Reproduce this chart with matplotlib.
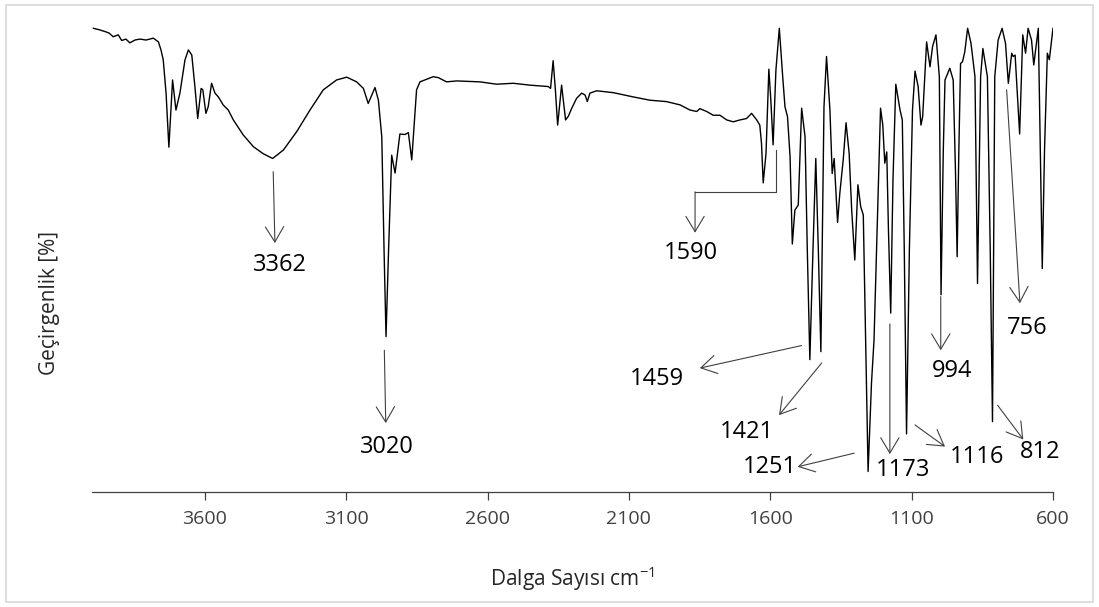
import matplotlib
matplotlib.use("Agg")
import matplotlib.pyplot as plt
from matplotlib.patches import Rectangle

plt.rcParams['font.family'] = ['Open Sans', 'DejaVu Sans']
plt.rcParams['mathtext.fontset'] = 'custom'
plt.rcParams['mathtext.rm'] = 'Open Sans'
plt.rcParams['mathtext.it'] = 'Open Sans'

# FTIR spectrum: wavenumber (cm-1) and transmittance (%)
wavenumber = [3994, 3974, 3953, 3939, 3924, 3906, 3894, 3879, 3865, 3847,
              3829, 3808, 3782, 3764, 3755, 3747, 3737, 3727, 3714, 3702,
              3688, 3670, 3658, 3646, 3635, 3625, 3613, 3607, 3596, 3588,
              3576, 3564, 3552, 3535, 3517, 3499, 3464, 3428, 3393, 3360,
              3322, 3275, 3228, 3181, 3134, 3098, 3063, 3039, 3022, 2998,
              2986, 2974, 2966, 2959, 2950, 2939, 2927, 2910, 2892, 2880,
              2868, 2851, 2839, 2792, 2774, 2745, 2709, 2627, 2568, 2509,
              2450, 2385, 2377, 2368, 2360, 2352, 2338, 2324, 2314, 2302,
              2285, 2267, 2255, 2247, 2238, 2214, 2155, 2085, 2026, 1967,
              1919, 1884, 1860, 1849, 1825, 1802, 1778, 1754, 1731, 1707,
              1684, 1666, 1648, 1637, 1631, 1625, 1615, 1605, 1598, 1590,
              1580, 1568, 1556, 1548, 1539, 1530, 1522, 1513, 1501, 1489,
              1477, 1469, 1460, 1449, 1439, 1430, 1421, 1410, 1401, 1389,
              1381, 1374, 1362, 1354, 1342, 1332, 1321, 1312, 1301, 1290,
              1280, 1271, 1262, 1254, 1242, 1233, 1224, 1210, 1202, 1195,
              1188, 1182, 1174, 1166, 1156, 1141, 1133, 1126, 1118, 1108,
              1097, 1088, 1077, 1067, 1061, 1056, 1047, 1035, 1026, 1014,
              1002, 996, 988, 982, 965, 953, 945, 939, 933, 927,
              920, 912, 902, 890, 876, 867, 856, 848, 832, 822,
              814, 806, 794, 780, 768, 758, 746, 741, 734, 725,
              718, 707, 697, 688, 676, 668, 652, 645, 638, 630,
              620, 613, 600]
transmittance = [98.6, 98.3, 97.9, 97.6, 96.8, 97.2, 96.0, 96.3, 95.5, 96.1,
                 96.3, 96.1, 96.5, 95.7, 94.0, 91.9, 84.8, 73.3, 87.6, 81.2,
                 84.8, 91.9, 94.0, 92.9, 86.2, 79.4, 85.8, 85.5, 80.5, 81.9,
                 86.9, 84.8, 84.0, 82.3, 81.2, 79.1, 75.9, 73.4, 71.9, 70.9,
                 72.7, 76.6, 81.2, 85.5, 87.6, 88.2, 87.2, 85.8, 82.6, 86.0,
                 83.3, 75.5, 51.4, 33.0, 51.4, 71.6, 67.8, 76.1, 76.0, 76.4,
                 70.6, 85.5, 87.2, 88.3, 88.1, 87.2, 87.4, 87.2, 86.7, 86.9,
                 86.5, 86.2, 85.8, 91.7, 85.5, 78.0, 86.5, 79.1, 79.9, 81.6,
                 83.7, 84.8, 84.4, 83.0, 84.8, 85.3, 84.9, 84.0, 83.3, 83.0,
                 82.3, 81.2, 80.9, 81.5, 80.9, 80.1, 80.1, 79.1, 78.7, 79.1,
                 79.4, 80.5, 79.1, 78.0, 74.1, 65.7, 72.0, 89.9, 83.3, 73.8,
                 89.7, 98.6, 88.3, 81.9, 79.8, 71.3, 52.7, 59.9, 61.0, 81.6,
                 75.5, 51.4, 28.1, 51.4, 70.9, 51.4, 29.8, 81.9, 92.6, 81.2,
                 67.7, 70.9, 57.3, 63.5, 70.6, 78.5, 72.0, 59.9, 49.3, 65.3,
                 60.6, 58.9, 30.1, 4.3, 23.1, 32.3, 51.4, 81.6, 78.0, 69.9,
                 72.3, 55.7, 38.0, 66.3, 86.7, 81.2, 79.1, 51.4, 12.3, 51.4,
                 81.2, 89.5, 86.2, 78.0, 79.8, 85.5, 95.7, 90.4, 94.7, 97.2,
                 88.3, 41.9, 72.7, 87.6, 90.1, 87.6, 68.4, 50.0, 72.7, 91.1,
                 91.5, 93.6, 98.6, 95.4, 88.3, 44.3, 88.3, 94.3, 88.3, 51.4,
                 14.9, 88.3, 96.1, 98.6, 95.4, 86.9, 93.3, 92.6, 92.9, 83.3,
                 76.1, 97.2, 93.3, 98.6, 96.1, 90.8, 98.6, 72.7, 47.5, 72.7,
                 93.3, 91.9, 98.6]

x_ticks = [3600, 3100, 2600, 2100, 1600, 1100, 600]

# peak labels
peak_labels = ['3362', '3020', '1590', '1459', '1421', '1251',
               '1173', '1116', '994', '812', '756']

fig = plt.figure(figsize=(10.99, 6.07), dpi=100)
fig.patches.append(Rectangle((6 / 1099, 1 - 602 / 607), 1087 / 1099, 597 / 607,
                             transform=fig.transFigure, fill=False,
                             edgecolor='#d9d9d9', linewidth=1.2))

ax = fig.add_axes([91.7 / 1099, 1 - 491.7 / 607, (1053 - 91.7) / 1099, 470 / 607])
ax.plot(wavenumber, transmittance, color='black', linewidth=1.0)
ax.set_xlim(4000, 600)
ax.set_ylim(0, 100)
ax.set_xticks(x_ticks)
ax.set_xticklabels([str(t) for t in x_ticks], fontsize=14, color='#404040')
ax.set_yticks([])
for side in ('left', 'right', 'top'):
    ax.spines[side].set_visible(False)
ax.spines['bottom'].set_color('#404040')
ax.spines['bottom'].set_linewidth(0.9)
ax.tick_params(axis='x', direction='out', length=5.5, width=0.9,
               color='#404040', pad=8)

ax.set_xlabel('Dalga Sayısı cm$^{-1}$', fontsize=15, color='#262626', labelpad=26)
fig.text(50 / 1099, 1 - 303 / 607, 'Geçirgenlik [%]', rotation=90,
         fontsize=15, color='#262626', ha='center', va='center')

arrow_kw = dict(arrowstyle='->, head_length=0.55, head_width=0.33',
                color='#404040', linewidth=0.8, mutation_scale=20,
                shrinkA=0, shrinkB=0)
txt_kw = dict(fontsize=17, color='black', ha='center', va='center')

# (label, arrow start, arrow tip, text position) in data coordinates
straight = [
    ('3362', (3358, 68.1), (3352, 52.9), (3334, 48.2)),
    ('3020', (2965, 30.1), (2960, 14.6), (2957, 9.6)),
    ('1459', (1489, 31.1), (1849, 26.3), (2001, 24.0)),
    ('1421', (1418, 27.4), (1569, 16.3), (1684, 12.8)),
    ('1251', (1303, 8.2), (1503, 5.3), (1601, 5.3)),
    ('1173', (1177, 35.7), (1177, 8.0), (1132, 4.6)),
    ('1116', (1088, 14.2), (982, 9.6), (870, 7.4)),
    ('994', (997, 41.5), (997, 30.1), (956, 25.7)),
    ('812', (796, 18.4), (705, 11.1), (646, 8.5)),
    ('756', (764, 85.5), (717, 40.1), (692, 34.8)),
]
for label, start, tip, pos in straight:
    ax.annotate('', xy=tip, xytext=start, arrowprops=arrow_kw,
                annotation_clip=False)
    ax.text(pos[0], pos[1], label, **txt_kw)

# elbow connector for the 1590 band
ax.plot([1580, 1580, 1866], [72.7, 63.8, 63.8], color='#404040', linewidth=0.8)
ax.annotate('', xy=(1866, 55.1), xytext=(1866, 63.8), arrowprops=arrow_kw)
ax.text(1880, 50.8, '1590', **txt_kw)

fig.savefig('out.png', dpi=100)
